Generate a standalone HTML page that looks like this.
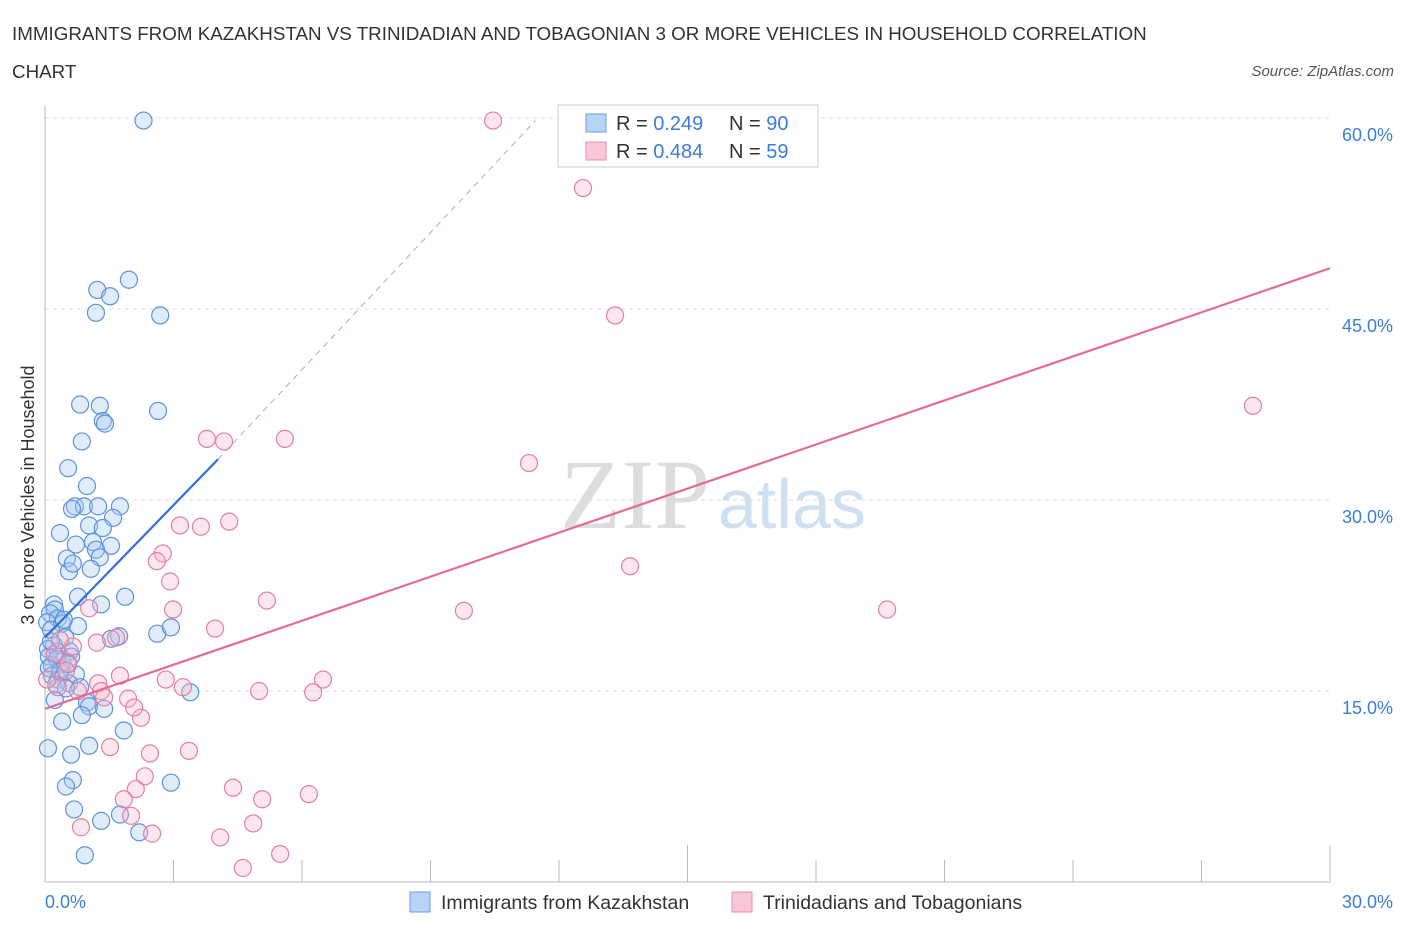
<!DOCTYPE html>
<html><head><meta charset="utf-8"><style>
body{margin:0;background:#fff;font-family:"Liberation Sans",sans-serif;}
svg{display:block}
</style></head><body>
<svg id="chart" width="1406" height="930">
<text x="12" y="40" font-size="18.8" fill="#333">IMMIGRANTS FROM KAZAKHSTAN VS TRINIDADIAN AND TOBAGONIAN 3 OR MORE VEHICLES IN HOUSEHOLD CORRELATION</text>
<text x="12" y="78" font-size="18.8" fill="#333">CHART</text>
<text x="1394" y="76" font-size="15" fill="#555" font-style="italic" text-anchor="end">Source: ZipAtlas.com</text>
<text x="34" y="495" font-size="18" fill="#333" text-anchor="middle" transform="rotate(-90 34 495)">3 or more Vehicles in Household</text>
<g id="grid"></g>
<text x="560" y="528" font-size="100" fill="#ddd" font-family="Liberation Serif">ZIP</text>
<text x="718" y="528" font-size="70" fill="#cfe0f3">atlas</text>
<g id="marks"></g>
<g>
<rect x="558" y="105" width="260" height="62" fill="#fff" stroke="#ccc"/>
<rect x="586" y="114" width="20" height="18" fill="#b9d3f7" stroke="#6a9ee0"/>
<rect x="586" y="142" width="20" height="18" fill="#f9c6d6" stroke="#e890ae"/>
<text x="616" y="130" font-size="20" fill="#333">R = <tspan fill="#3b7dd8">0.249</tspan></text>
<text x="729" y="130" font-size="20" fill="#333">N = <tspan fill="#3b7dd8">90</tspan></text>
<text x="616" y="158" font-size="20" fill="#333">R = <tspan fill="#3b7dd8">0.484</tspan></text>
<text x="729" y="158" font-size="20" fill="#333">N = <tspan fill="#3b7dd8">59</tspan></text>
</g>
<g>
<rect x="410" y="892" width="20" height="20" fill="#b9d3f7" stroke="#6a9ee0"/>
<text x="441" y="909" font-size="19.5" fill="#333">Immigrants from Kazakhstan</text>
<rect x="732" y="892" width="20" height="20" fill="#f9c6d6" stroke="#e890ae"/>
<text x="763" y="909" font-size="19.5" fill="#333">Trinidadians and Tobagonians</text>
</g>
</svg>
<script>
const yTicks=[15,30,45,60];
const yTickLabels=["15.0%","30.0%","45.0%","60.0%"];
const xTickLabels=["0.0%","30.0%"];
const blueX=[2.3,1.96,1.22,1.52,1.19,2.69,0.82,1.28,2.64,1.35,1.4,0.86,0.54,0.98,0.7,0.91,1.75,0.63,1.24,0.35,1.03,1.59,1.35,0.72,1.12,1.54,1.19,1.28,0.51,0.56,1.07,0.65,0.77,1.87,0.21,0.23,1.31,0.12,0.3,0.05,0.4,0.77,0.14,2.62,2.94,1.73,1.54,0.47,0.21,0.07,0.3,0.58,0.09,0.4,0.61,0.16,0.37,0.72,0.16,0.3,0.56,0.82,3.39,0.26,0.98,1.03,1.38,0.86,0.4,1.84,1.03,0.07,0.61,0.65,0.49,0.68,1.31,1.75,2.2,2.94,0.93,0.49,0.44,0.14,0.28,0.35,0.09,0.23,0.54];
const blueY=[59.8,47.3,46.5,46.0,44.7,44.5,37.5,37.4,37.0,36.2,36.0,34.6,32.5,31.1,29.5,29.5,29.5,29.3,29.5,27.4,28.0,28.6,27.8,26.5,26.7,26.4,26.1,25.5,25.4,24.4,24.6,25.0,22.4,22.4,21.8,21.4,21.8,21.1,20.7,20.4,20.3,20.1,19.8,19.5,20.0,19.3,19.1,19.2,18.6,18.3,18.1,18.1,17.7,17.3,17.7,17.0,16.7,16.3,16.2,15.9,15.6,15.3,14.9,15.5,14.1,13.8,13.6,13.1,12.6,11.9,10.7,10.5,10.0,8.0,7.5,5.7,4.8,5.3,3.9,7.8,2.1,15.2,20.6,18.9,17.5,16.5,16.8,14.3,17.1];
const pinkX=[10.46,12.56,13.31,28.2,3.78,4.18,5.6,11.3,3.15,3.64,4.3,2.75,2.61,2.92,5.18,2.99,9.78,19.66,13.66,3.97,1.03,1.66,1.21,0.65,0.23,0.54,1.75,2.82,6.49,3.22,1.24,1.31,5.0,6.26,1.94,2.24,2.08,3.36,1.52,2.45,2.33,2.12,4.39,5.07,6.16,1.84,2.01,0.84,2.5,4.09,4.86,4.62,5.49,0.3,0.49,0.77,1.38,0.35,0.05];
const pinkY=[59.8,54.5,44.5,37.4,34.8,34.6,34.8,32.9,28.0,27.9,28.3,25.8,25.2,23.6,22.1,21.4,21.3,21.4,24.8,19.9,21.5,19.2,18.8,18.5,17.9,17.2,16.2,15.9,15.9,15.3,15.6,15.0,15.0,14.9,14.4,12.9,13.7,10.3,10.6,10.1,8.3,7.3,7.4,6.5,6.9,6.5,5.2,4.3,3.8,3.5,4.6,1.1,2.2,15.3,16.6,15.0,14.5,19.0,15.9];
const X0=45,X1=1330,Y0=882,PXY=12.733;
const xs=v=>X0+(X1-X0)*v/30, ys=v=>Y0-v*PXY;
const NS="http://www.w3.org/2000/svg";
function mk(t,a,p){const e=document.createElementNS(NS,t);for(const k in a)e.setAttribute(k,a[k]);p.appendChild(e);return e;}
const g=document.getElementById('grid'), m=document.getElementById('marks');
yTicks.forEach((v,i)=>{const l=mk('line',{x1:X0,x2:X1,y1:ys(v),y2:ys(v),stroke:'#ddd','stroke-dasharray':'4,4'},g);


const t=mk('text',{x:1393,y:ys(v)+23,'font-size':18,fill:'#3b7dd8','text-anchor':'end'},g);t.textContent=yTickLabels[i];

});
const ax=mk('line',{x1:X0,x2:X1,y1:Y0,y2:Y0,stroke:'#bbb'},g);


const ay=mk('line',{x1:X0,x2:X0,y1:105,y2:Y0,stroke:'#bbb'},g);


for(let i=0;i<=10;i++){const x=xs(i*3);const tk=mk('line',{x1:x,x2:x,y1:Y0,y2:i%5==0?Y0-37:Y0-22,stroke:'#bbb'},g);

}
[[0,'start',45],[30,'end',1393]].forEach((d,i)=>{const t=mk('text',{x:d[2],y:908,'font-size':18,fill:'#3b7dd8','text-anchor':d[1]},g);t.textContent=xTickLabels[i];

});
function dots(X,Y,f,s,n){X.forEach((x,i)=>{const c=mk('circle',{cx:xs(x),cy:ys(Y[i]),r:8.5,fill:f,'fill-opacity':0.35,stroke:s,'stroke-width':1.2},m);

});}
dots(blueX,blueY,'#a9c8f2','#5b93dc','kazakhstan-point');
dots(pinkX,pinkY,'#f7b9cd','#e37fa3','trinidad-point');
const b1=mk('line',{x1:xs(0),y1:ys(19.2),x2:xs(4.04),y2:ys(33.2),stroke:'#2f6fd6','stroke-width':2.2},m);


const b2=mk('line',{x1:xs(4.04),y1:ys(33.2),x2:xs(11.45),y2:ys(59.8),stroke:'#8fb3e8','stroke-width':1,'stroke-dasharray':'6,5'},m);


const p1=mk('line',{x1:xs(0),y1:ys(13.6),x2:xs(30),y2:ys(48.2),stroke:'#e36b96','stroke-width':2.2},m);


</script>
</body></html>
